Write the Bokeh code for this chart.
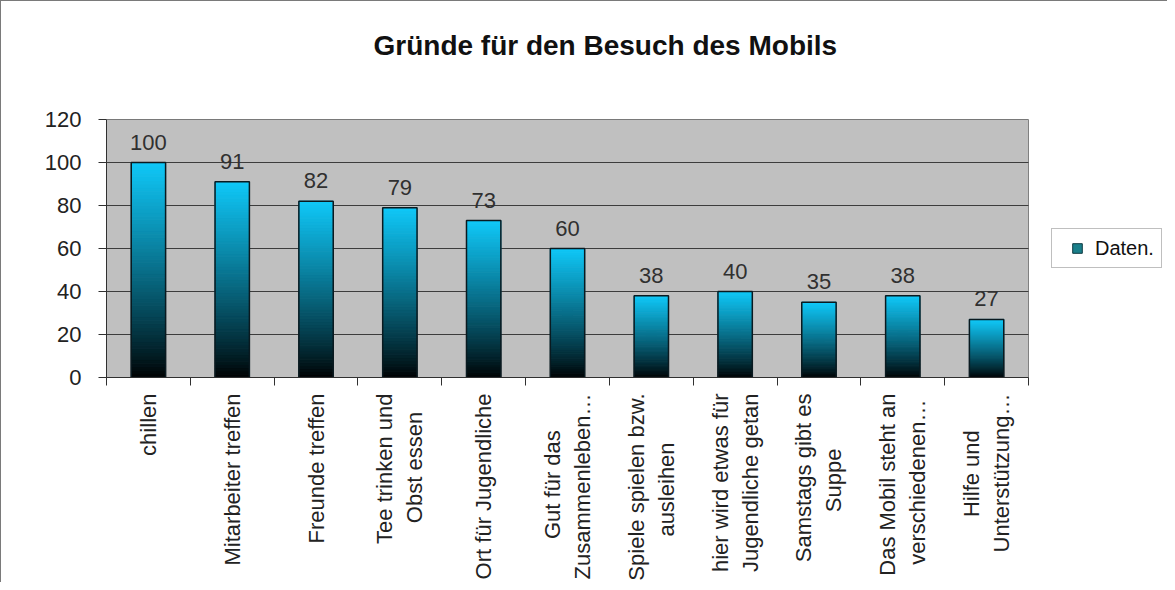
from bokeh.plotting import figure
from bokeh.embed import file_html
from bokeh.resources import INLINE
from bokeh.models import (FixedTicker, Legend, LegendItem, ColumnDataSource,
                          Range1d, LabelSet, Title)
from bokeh.core.properties import value
import numpy as np

# ---- data ----
categories = [
    "chillen",
    "Mitarbeiter treffen",
    "Freunde treffen",
    "Tee trinken und\nObst essen",
    "Ort für Jugendliche",
    "Gut für das\nZusammenleben…",
    "Spiele spielen bzw.\nausleihen",
    "hier wird etwas für\nJugendliche getan",
    "Samstags gibt es\nSuppe",
    "Das Mobil steht an\nverschiedenen…",
    "Hilfe und\nUnterstützung…",
]
values = [100, 91, 82, 79, 73, 60, 38, 40, 35, 38, 27]
series_name = "Daten."
title_text = "Gründe für den Besuch des Mobils"
y_ticks = [0, 20, 40, 60, 80, 100, 120]

FONT = "Liberation Sans"
W, H = 1167, 582
LEFT, TOP, BOTTOM = 105, 118, 205
PLOT_W = 922                      # width of the grey plot area in pixels
n = len(categories)
x_end = n * (W - LEFT) / PLOT_W   # frame extends right to hold the legend

# approximate Arial advance widths (em) to centre the lines of two-line labels
_cw = {"i": .222, "l": .222, "j": .222, "f": .278, "t": .278, " ": .278, ".": .278,
       "r": .333, "s": .5, "c": .5, "k": .5, "v": .5, "z": .5, "J": .5, "w": .722,
       "m": .833, "M": .833, "O": .778, "G": .778, "D": .722, "H": .722, "U": .722,
       "S": .667, "Z": .611, "T": .611, "…": 1.0}


def _w(s):
    return sum(_cw.get(ch, .556) for ch in s)


def centre_lines(label):
    lines = label.split("\n")
    if len(lines) < 2:
        return label
    wmax = max(_w(l) for l in lines)
    out = []
    for l in lines:
        k = int(round((wmax - _w(l)) / 2 / .278))
        out.append(l + "\u00a0" * k)
    return "\n".join(out)


p = figure(width=W, height=H, output_backend="svg", toolbar_location=None,
           x_range=Range1d(0, x_end), y_range=Range1d(0, 120),
           min_border_left=LEFT, min_border_right=0, min_border_top=TOP,
           min_border_bottom=BOTTOM, title=None)
p.background_fill_color = "white"
p.border_fill_color = "white"
p.outline_line_color = None
p.styles = {"border-left": "1px solid #7a7a7a", "border-top": "1px solid #7a7a7a"}

# titles: a spacer nearest the frame, then the real title above it
p.add_layout(Title(text=" ", text_font_size="12px", standoff=38), "above")
p.add_layout(Title(text=title_text, align="left", offset=267, standoff=10,
                   text_font=FONT, text_font_size="28px", text_font_style="bold",
                   text_color="#111111"), "above")

# grey plot area with its border
p.quad(left=[0], right=[n], bottom=[y_ticks[0]], top=[y_ticks[-1]],
       fill_color="#c0c0c0", line_color="#808080", line_width=1)
# horizontal grid lines across the plot area
p.segment(x0=[0] * len(y_ticks), x1=[n] * len(y_ticks), y0=y_ticks, y1=y_ticks,
          line_color="#3c3c3c", line_width=1)

xc = [i + 0.5 for i in range(n)]
bars = ColumnDataSource(dict(x=xc, top=values, mid=[v / 2 for v in values],
                             label=[str(v) for v in values]))

# legend marker (hidden behind the bars, only its legend glyph shows)
key = p.scatter(x="x", y="mid", source=bars, marker="square", size=10,
                fill_color="#1a7f8a", line_color="#0f3a42", line_width=1)

# gradient bars: each bar split into thin slices, coloured from cyan (top) to black (bottom)
N = 60
top_rgb = np.array([16, 200, 248])
xs0, xs1, ys0, ys1, cols = [], [], [], [], []
bw = 0.41
for i, v in enumerate(values):
    cx = xc[i]
    for k in range(N):
        t = (k + 0.5) / N
        c = (top_rgb * (t ** 0.85)).astype(int)
        xs0.append(cx - bw / 2)
        xs1.append(cx + bw / 2)
        ys0.append(v * k / N)
        ys1.append(v * (k + 1) / N)
        cols.append("#%02x%02x%02x" % tuple(c))
seg = ColumnDataSource(dict(left=xs0, right=xs1, bottom=ys0, top=ys1, color=cols))
p.quad(left="left", right="right", bottom="bottom", top="top", fill_color="color",
       line_color="color", line_width=1, source=seg)

p.vbar(x="x", top="top", width=bw, bottom=0, fill_color=None, line_color="#0a1a20",
       line_width=1.5, source=bars)

labels = LabelSet(x="x", y="top", text="label", source=bars, text_align="center",
                  text_baseline="bottom", y_offset=13, text_font=value(FONT),
                  text_font_size="22px", text_color="#303030")
p.add_layout(labels)

p.xgrid.visible = False
p.ygrid.visible = False

# y axis
p.yaxis.ticker = FixedTicker(ticks=y_ticks)
p.yaxis.axis_line_color = "#303030"
p.yaxis.major_tick_line_color = "#303030"
p.yaxis.major_tick_out = 8
p.yaxis.major_tick_in = 0
p.yaxis.minor_tick_line_color = None
p.yaxis.major_label_standoff = 17
p.yaxis.major_label_text_font = FONT
p.yaxis.major_label_text_font_size = "22px"
p.yaxis.major_label_text_color = "#222222"

# x axis: labels at centres, tick marks at category boundaries
bounds = [i for i in range(n + 1)]
p.xaxis.bounds = (0, n)
p.xaxis.ticker = FixedTicker(ticks=xc, minor_ticks=bounds)
p.xaxis.major_label_overrides = {c: centre_lines(lab) for c, lab in zip(xc, categories)}
p.xaxis.major_tick_line_color = None
p.xaxis.minor_tick_line_color = "#303030"
p.xaxis.minor_tick_out = 8
p.xaxis.minor_tick_in = 0
p.xaxis.axis_line_color = "#303030"
p.xaxis.major_label_orientation = np.pi / 2
p.xaxis.major_label_standoff = 8
p.xaxis.major_label_text_font = FONT
p.xaxis.major_label_text_font_size = "22px"
p.xaxis.major_label_text_color = "#222222"

# legend, inside the frame to the right of the plot area
legend = Legend(items=[LegendItem(label=series_name, renderers=[key])],
                location=(945, 109), orientation="vertical",
                glyph_width=36, glyph_height=24, padding=7, margin=0,
                label_standoff=0, label_text_font=FONT, label_text_font_size="20px",
                label_text_color="#111111", border_line_color="#808080",
                border_line_width=1, background_fill_color="white")
p.add_layout(legend)

open("out.html", "w").write(file_html(p, INLINE))
